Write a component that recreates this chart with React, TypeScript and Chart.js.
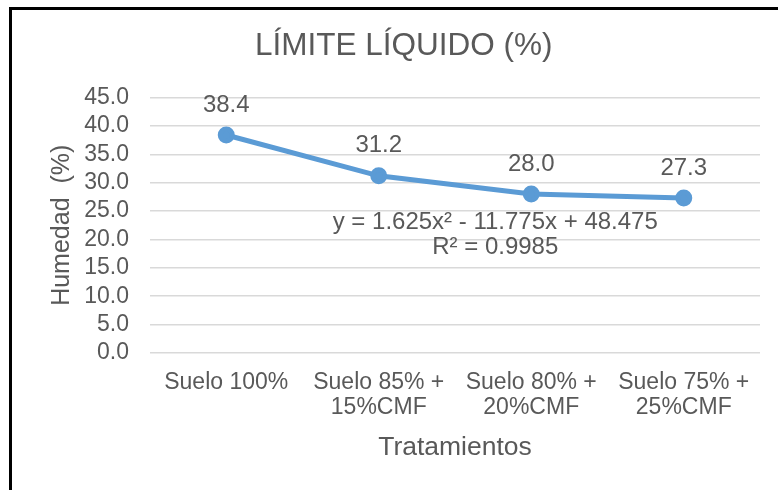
import React, { useEffect, useRef } from "react";
import { Chart, registerables } from "chart.js";

Chart.register(...registerables);

const categories: (string | string[])[] = [
  "Suelo 100%",
  ["Suelo 85% +", "15%CMF"],
  ["Suelo 80% +", "20%CMF"],
  ["Suelo 75% +", "25%CMF"],
];
const humedad = [38.4, 31.2, 28.0, 27.3];
const trendEquation = "y = 1.625x² - 11.775x + 48.475";
const trendR2 = "R² = 0.9985";
const chartTitle = "LÍMITE LÍQUIDO (%)";
const yTitle = "Humedad  (%)";
const xTitle = "Tratamientos";

const FONT = "'Liberation Sans', Arial, sans-serif";
const TEXT = "#595959";
const BLUE = "#5B9BD5";

const decorPlugin = {
  id: "decor",
  afterDatasetsDraw(chart: any) {
    const { ctx, chartArea } = chart;
    const meta = chart.getDatasetMeta(0);
    ctx.save();
    ctx.fillStyle = TEXT;
    ctx.font = `24px ${FONT}`;
    ctx.textAlign = "center";
    ctx.textBaseline = "middle";
    meta.data.forEach((pt: any, i: number) => {
      ctx.fillText(humedad[i].toFixed(1), pt.x, pt.y - 30);
    });
    const w = chartArea.right - chartArea.left;
    const h = chartArea.bottom - chartArea.top;
    const cx = chartArea.left + w * 0.566;
    ctx.font = `24px ${FONT}`;
    ctx.fillText(trendEquation, cx, chartArea.top + h * 0.488);
    ctx.fillText(trendR2, cx, chartArea.top + h * 0.586);
    ctx.restore();
  },
  afterDraw(chart: any) {
    const { ctx } = chart;
    ctx.save();
    ctx.fillStyle = "#000";
    ctx.fillRect(9, 7, chart.width - 9, 3);
    ctx.fillRect(9, 7, 3, chart.height - 7);
    ctx.restore();
  },
};

export default function App() {
  const ref = useRef<HTMLCanvasElement | null>(null);
  useEffect(() => {
    document.body.style.margin = "0";
    if (!ref.current) return;
    const chart = new Chart(ref.current, {
      type: "line",
      data: {
        labels: categories,
        datasets: [
          {
            data: humedad,
            borderColor: BLUE,
            backgroundColor: BLUE,
            borderWidth: 5,
            pointRadius: 6,
            pointBackgroundColor: BLUE,
            pointBorderColor: BLUE,
            tension: 0,
          },
        ],
      },
      options: {
        animation: false,
        responsive: false,
        layout: { padding: { left: 47.6, right: 18, top: 0, bottom: 26.1 } },
        plugins: {
          legend: { display: false },
          tooltip: { enabled: false },
          title: {
            display: true,
            text: chartTitle,
            color: TEXT,
            font: { family: FONT, size: 31.5, weight: "normal", lineHeight: 1.2 },
            padding: { top: 27.1, bottom: 32.6 },
          },
        },
        scales: {
          x: {
            offset: true,
            grid: { display: false, drawTicks: false, offset: true },
            border: { display: false },
            ticks: {
              color: TEXT,
              font: { family: FONT, size: 23, lineHeight: 1.1 },
              padding: 17,
              maxRotation: 0,
              autoSkip: false,
            },
            title: {
              display: true,
              text: xTitle,
              color: TEXT,
              font: { family: FONT, size: 26.5, lineHeight: 1.2 },
              padding: { top: 0, bottom: 0 },
            },
            afterFit: (s: any) => {
              s.paddingLeft = 0;
              s.paddingRight = 0;
              s.height = 110.9;
            },
          },
          y: {
            min: 0,
            max: 45,
            grid: { color: "#D9D9D9", lineWidth: 1.5, drawTicks: false },
            border: { display: false },
            ticks: {
              stepSize: 5,
              autoSkip: false,
              color: TEXT,
              font: { family: FONT, size: 23 },
              padding: 21,
              callback: (v: any) => Number(v).toFixed(1),
            },
            title: {
              display: true,
              text: yTitle,
              color: TEXT,
              font: { family: FONT, size: 25, lineHeight: 1.15 },
              padding: { top: 0, bottom: 0 },
            },
            afterFit: (s: any) => {
              s.width = 102.4;
              s.paddingTop = 0;
              s.paddingBottom = 0;
            },
          },
        },
      },
      plugins: [decorPlugin],
    });
    return () => chart.destroy();
  }, []);
  return (
    <div style={{ width: 778, height: 490, background: "#fff" }}>
      <canvas ref={ref} width={778} height={490} style={{ display: "block" }} />
    </div>
  );
}
